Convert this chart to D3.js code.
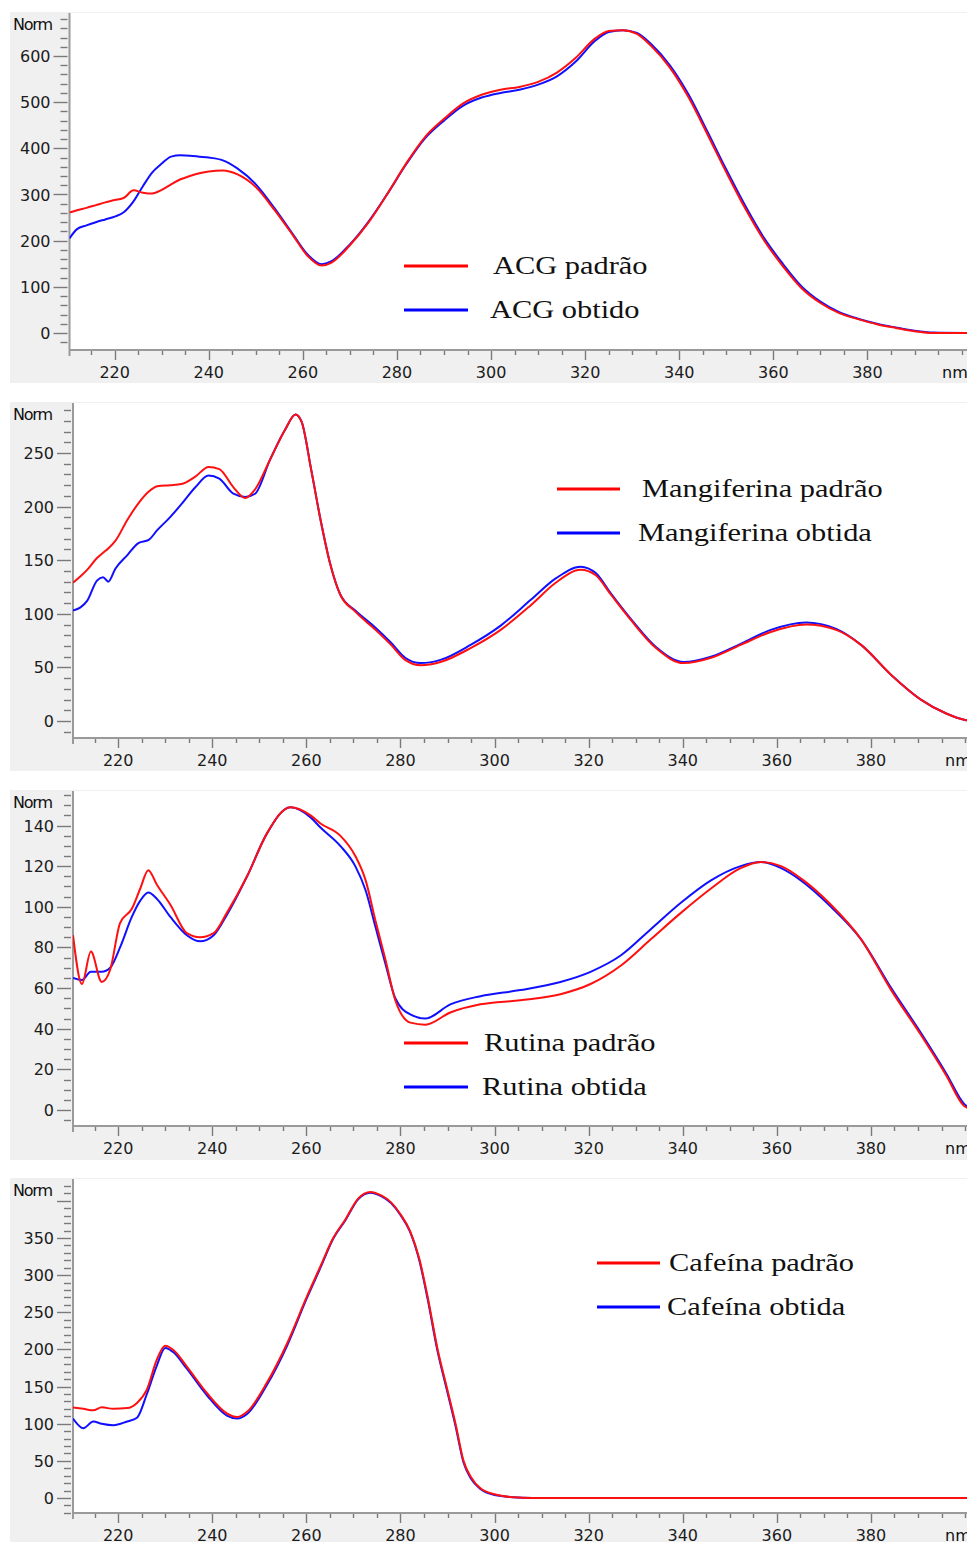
<!DOCTYPE html>
<html><head><meta charset="utf-8">
<script src="https://cdn.jsdelivr.net/npm/d3@7"></script>
<style>html,body{margin:0;padding:0;background:#fff;overflow:hidden}</style>
</head><body>
<svg id="chart" width="967" height="1542"></svg>
<script>
// ---------- DATA ----------
// Panel 1: ACG
const acgWl      = [210.4,212,214,216,218,220,222,224,226,228,230,232,234,236,238,240,243,246,250,254,258,261,264,266,270,274,278,282,286,290,294,298,302,306,310,314,318,322,325,328,331,334,338,342,346,350,354,358,362,366,370,374,378,382,386,390,394,402];
const acgPadrao  = [261,266,271,277,283,288,293,309,304,302,310,322,333,340,346,350,352,344,316,266,210,167,146,152,190,240,302,368,425,464,497,516,527,533,544,564,596,637,654,656,648,622,575,510,430,348,270,201,145,97,65,43,30,19,11,4,0,0];
const acgObtido  = [205,225,233,240,246,252,262,285,318,348,367,382,385,384,382,380,374,357,322,270,212,170,149,155,192,242,302,366,422,460,492,510,520,527,538,556,588,632,652,656,650,626,580,516,436,354,276,206,150,101,68,45,31,20,12,5,1,0];

// Panel 2: Mangiferina
const manWl      = [210.4,212,213.4,215.5,216.8,217.9,219.4,222,224.3,226.5,228.3,231,233.4,236.4,239.2,241.5,244.5,247,249.1,252.3,255.5,257.7,259,261,263,265.1,267.2,270.4,274.7,278,281,284.3,288.5,294.9,301.3,307.7,313,318.3,321.5,324.7,329,334.3,340.2,346,352.3,358.7,366.2,372.6,377.9,384.3,390.6,396,400,402];
const manPadrao  = [129,135,141,152,157,161,168,188,203,214,219,220,221,228,237,235,218,208,216,244,272,286,279,235,188,146,118,102,85,71,57,52,55,68,85,108,129,141,136,118,94,68,54,59,71,83,90,85,71,43,20,7,1,0];
const manObtido  = [103,106,112,131,134,130,142,155,166,169,178,190,202,218,229,226,212,209,212,244,272,286,279,235,188,146,118,103,87,73,59,54,57,71,89,113,133,144,138,119,95,69,55,60,72,85,92,86,71,43,20,7,1,0];

// Panel 3: Rutina
const rutWl      = [210.4,212.3,214.2,216.5,218.3,220.4,222.9,224.7,226.4,228.2,231.1,234.6,237.4,240.3,243.1,247.4,251.6,256.6,260.9,263,267.2,270.4,272.6,274.7,276.8,278.9,282.1,285.3,290.6,297,305.5,314,320.4,326.8,333.2,339.6,346,352.3,356.6,360.9,365.1,371.5,377.9,384.3,390.6,396,399.8,402];
const rutPadrao  = [86,62,78,63,69,92,99,109,118,111,101,87,85,87,97,115,136,149,145,141,135,125,113,93,74,54,43,42,48,52,54,57,62,71,84,97,109,119,122,120,114,101,84,59,37,17,2,0];
const rutObtido  = [65,64,68,68,70,80,95,103,107,104,95,86,83,86,96,115,136,149,144,139,130,120,108,90,72,55,47,45,52,56,59,63,68,76,89,102,113,120,122,119,113,100,84,60,38,18,3,0];

// Panel 4: Cafeína
const cafWl      = [210.4,212.6,214.7,216.5,219,221.9,224,226.1,228.2,230,231.8,234.6,238.9,243.1,245.3,247.4,251.6,255.9,260.1,263,265.7,268.3,271,273.6,276,278,280,282,284,285.8,287.9,289.8,291.7,293.4,295,297,300,304,308,402];
const cafPadrao  = [122,120,118,122,120,121,128,146,186,205,199,177,141,114,109,116,155,208,271,312,350,375,403,412,407,398,382,360,322,270,200,150,100,50,28,13,5,1,0,0];
const cafObtido  = [107,94,103,100,98,103,108,140,178,202,196,174,138,111,107,113,152,205,269,310,349,374,402,411,406,397,381,359,320,267,197,147,97,48,26,12,4,1,0,0];

// Axis ticks
const xMajorTicks = [220,240,260,280,300,320,340,360,380];
const xMinorTicks = d3.range(215, 401, 5);
const y1Labels = [0,100,200,300,400,500,600];
const y2Labels = [0,50,100,150,200,250];
const y3Labels = [0,20,40,60,80,100,120,140];
const y4Labels = [0,50,100,150,200,250,300,350];

const legend1 = ["ACG padrão","ACG obtido"];
const legend2 = ["Mangiferina padrão","Mangiferina obtida"];
const legend3 = ["Rutina padrão","Rutina obtida"];
const legend4 = ["Cafeína padrão","Cafeína obtida"];

// ---------- LAYOUT ----------
const panels = [
  {wl:acgWl, a:acgPadrao, b:acgObtido, labels:y1Labels, extraMajor:[], minorStep:20, legend:legend1,
   grayTop:12, grayBottom:383, axisX:69.5, plotTop:13, axisY:350, zeroY:333, refV:600, refY:56,
   leg:{lx1:404, lx2:468, y1:266, y2:310, tx1:493, tx2:490}, nmX:942},
  {wl:manWl, a:manPadrao, b:manObtido, labels:y2Labels, extraMajor:[], minorStep:10, legend:legend2,
   grayTop:402, grayBottom:771, axisX:73, plotTop:403, axisY:738, zeroY:721, refV:250, refY:453,
   leg:{lx1:557, lx2:620, y1:489, y2:533, tx1:642, tx2:638}, nmX:945},
  {wl:rutWl, a:rutPadrao, b:rutObtido, labels:y3Labels, extraMajor:[], minorStep:5, legend:legend3,
   grayTop:790, grayBottom:1160, axisX:73, plotTop:791, axisY:1126, zeroY:1110, refV:140, refY:825.5,
   leg:{lx1:404, lx2:468, y1:1043, y2:1087, tx1:484, tx2:482}, nmX:945},
  {wl:cafWl, a:cafPadrao, b:cafObtido, labels:y4Labels, extraMajor:[400], minorStep:10, legend:legend4,
   grayTop:1178, grayBottom:1542, axisX:73, plotTop:1179, axisY:1513, zeroY:1498, refV:350, refY:1238,
   leg:{lx1:597, lx2:660, y1:1263, y2:1307, tx1:669, tx2:667}, nmX:945}
];

const svg = d3.select("#chart");
const W = 967;
const pxPerNm = 4.705;
const tickFont = "'DejaVu Sans', Verdana, sans-serif";
const legFont = "'Liberation Serif', 'Times New Roman', serif";
const axisCol = "#9a9a9a", tickCol = "#7a7a7a", labCol = "#1c1c1c";

panels.forEach((p, i) => {
  const g = svg.append("g");
  // gray frame
  g.append("rect").attr("x", 10).attr("y", p.grayTop).attr("width", W - 10).attr("height", p.grayBottom - p.grayTop).attr("fill", "#f0f0f0");
  // white plot area
  g.append("rect").attr("x", p.axisX).attr("y", p.plotTop).attr("width", W - p.axisX).attr("height", p.axisY - p.plotTop).attr("fill", "#fff");

  const x0 = 210.4;
  const x = d3.scaleLinear().domain([x0, 402]).range([p.axisX, p.axisX + (402 - x0) * pxPerNm]);
  const k = (p.zeroY - p.refY) / p.refV;
  const yTopV = (p.zeroY - p.plotTop) / k;
  const yBotV = (p.zeroY - p.axisY) / k;
  const y = d3.scaleLinear().domain([yBotV, yTopV]).range([p.axisY, p.plotTop]);

  // clip
  const cid = "clip" + i;
  svg.append("clipPath").attr("id", cid).append("rect")
    .attr("x", p.axisX).attr("y", p.plotTop).attr("width", W - p.axisX).attr("height", p.axisY - p.plotTop);

  // y minor ticks
  const minorVals = d3.range(Math.ceil(yBotV / p.minorStep) * p.minorStep, yTopV, p.minorStep)
      .filter(v => p.labels.indexOf(Math.round(v)) < 0 && p.extraMajor.indexOf(Math.round(v)) < 0);
  g.selectAll(".ymin").data(minorVals).join("line")
    .attr("x1", p.axisX - 9).attr("x2", p.axisX - 2)
    .attr("y1", d => Math.round(y(d)) + 0.5).attr("y2", d => Math.round(y(d)) + 0.5)
    .attr("stroke", tickCol).attr("stroke-width", 1.4);
  g.selectAll(".ymaj").data(p.labels.concat(p.extraMajor)).join("line")
    .attr("x1", p.axisX - 16).attr("x2", p.axisX - 2)
    .attr("y1", d => Math.round(y(d)) + 0.5).attr("y2", d => Math.round(y(d)) + 0.5)
    .attr("stroke", tickCol).attr("stroke-width", 1.4);
  g.selectAll(".ylab").data(p.labels).join("text")
    .attr("x", p.axisX - 19).attr("y", d => y(d) + 6)
    .attr("text-anchor", "end").attr("font-family", tickFont).attr("font-size", 16)
    .attr("fill", labCol).text(d => d);

  // x ticks
  g.selectAll(".xmin").data(xMinorTicks.filter(v => xMajorTicks.indexOf(v) < 0)).join("line")
    .attr("x1", d => Math.round(x(d)) + 0.5).attr("x2", d => Math.round(x(d)) + 0.5)
    .attr("y1", p.axisY).attr("y2", p.axisY + 5)
    .attr("stroke", tickCol).attr("stroke-width", 1.4);
  g.selectAll(".xmaj").data(xMajorTicks).join("line")
    .attr("x1", d => Math.round(x(d)) + 0.5).attr("x2", d => Math.round(x(d)) + 0.5)
    .attr("y1", p.axisY).attr("y2", p.axisY + 10)
    .attr("stroke", tickCol).attr("stroke-width", 1.4);
  g.selectAll(".xlab").data(xMajorTicks).join("text")
    .attr("x", d => x(d)).attr("y", p.axisY + 28)
    .attr("text-anchor", "middle").attr("font-family", tickFont).attr("font-size", 16)
    .attr("fill", labCol).text(d => d);

  // axis lines
  g.append("line").attr("x1", p.axisX).attr("x2", p.axisX).attr("y1", p.plotTop).attr("y2", p.axisY + 6)
    .attr("stroke", axisCol).attr("stroke-width", 2);
  g.append("line").attr("x1", p.axisX).attr("x2", W).attr("y1", p.axisY).attr("y2", p.axisY)
    .attr("stroke", axisCol).attr("stroke-width", 2);

  // Norm / nm
  g.append("text").attr("x", 13).attr("y", p.grayTop + 18).attr("font-family", tickFont).attr("font-size", 16)
    .attr("letter-spacing", -1.2).attr("fill", "#111").text("Norm");
  g.append("text").attr("x", p.nmX).attr("y", p.axisY + 28).attr("font-family", tickFont).attr("font-size", 16)
    .attr("fill", "#111").text("nm");

  // curves
  const line = d3.line().x((d, j) => x(p.wl[j])).y(d => y(d)).curve(d3.curveMonotoneX);
  const cg = g.append("g").attr("clip-path", `url(#${cid})`);
  cg.append("path").attr("d", line(p.b)).attr("fill", "none").attr("stroke", "#1010ff").attr("stroke-width", 2);
  cg.append("path").attr("d", line(p.a)).attr("fill", "none").attr("stroke", "#ff1010").attr("stroke-width", 2);

  // legend
  const L = p.leg;
  g.append("line").attr("x1", L.lx1).attr("x2", L.lx2).attr("y1", L.y1).attr("y2", L.y1).attr("stroke", "#ff0000").attr("stroke-width", 3);
  g.append("line").attr("x1", L.lx1).attr("x2", L.lx2).attr("y1", L.y2).attr("y2", L.y2).attr("stroke", "#0000ff").attr("stroke-width", 3);
  g.append("text").attr("transform", `translate(${L.tx1},${L.y1 + 8}) scale(1.17,1)`)
    .attr("font-family", legFont).attr("font-size", 26).attr("fill", "#111").text(p.legend[0]);
  g.append("text").attr("transform", `translate(${L.tx2},${L.y2 + 8}) scale(1.17,1)`)
    .attr("font-family", legFont).attr("font-size", 26).attr("fill", "#111").text(p.legend[1]);
});
</script>
</body></html>
